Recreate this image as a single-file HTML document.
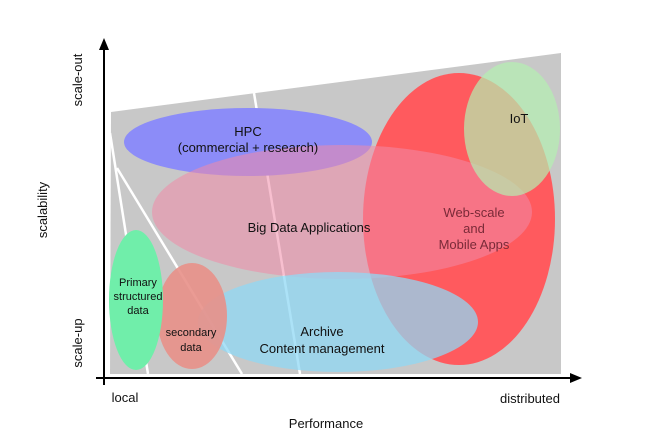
<!DOCTYPE html>
<html><head><style>body{margin:0;background:#fff}svg{display:block}</style></head><body>
<svg width="648" height="442" viewBox="0 0 648 442" font-family="Liberation Sans, sans-serif">
<polygon points="111,112 561,53 561,374 110,374" fill="#c8c8c8"/>
<g stroke="#fff" stroke-width="2.5" fill="none">
<line x1="110" y1="133" x2="148" y2="374"/>
<line x1="117" y1="168" x2="242" y2="374"/>
<line x1="254" y1="93" x2="300" y2="374"/>
</g>
<ellipse cx="248" cy="142" rx="124" ry="34" fill="#8c8cf8"/>
<ellipse cx="459" cy="219" rx="96" ry="146" fill="#ff5a5e"/>
<ellipse cx="342" cy="212" rx="190" ry="67" fill="#f08aa8" fill-opacity="0.55"/>
<ellipse cx="512" cy="129" rx="48" ry="67" fill="#b4f0b0" fill-opacity="0.7"/>
<ellipse cx="338" cy="322" rx="140" ry="50" fill="#90d8f4" fill-opacity="0.75"/>
<ellipse cx="192" cy="316" rx="35" ry="53" fill="#e89088" fill-opacity="0.9"/>
<ellipse cx="136" cy="300" rx="27" ry="70" fill="#70eeaa"/>
<g stroke="#000" stroke-width="2">
<line x1="104" y1="385" x2="104" y2="48"/>
<line x1="96" y1="378" x2="572" y2="378"/>
</g>
<polygon points="104,38 99,50 109,50" fill="#000"/>
<polygon points="582,378 570,373 570,383" fill="#000"/>
<g font-size="13" fill="#111" text-anchor="middle">
<text x="248" y="136">HPC</text>
<text x="248" y="152">(commercial + research)</text>
<text x="309" y="232">Big Data Applications</text>
<text x="474" y="217" fill="#7a2a38">Web-scale</text>
<text x="474" y="233" fill="#7a2a38">and</text>
<text x="474" y="249" fill="#7a2a38">Mobile Apps</text>
<text x="519" y="123">IoT</text>
<text x="322" y="336">Archive</text>
<text x="322" y="353">Content management</text>
<text x="326" y="428">Performance</text>
<text x="125" y="402">local</text>
<text x="530" y="403">distributed</text>
</g>
<g font-size="11" fill="#111" text-anchor="middle">
<text x="138" y="286">Primary</text>
<text x="138" y="300">structured</text>
<text x="138" y="314">data</text>
<text x="191" y="336">secondary</text>
<text x="191" y="351">data</text>
</g>
<g font-size="13" fill="#111" text-anchor="middle">
<text transform="translate(82,80) rotate(-90)">scale-out</text>
<text transform="translate(47,210) rotate(-90)">scalability</text>
<text transform="translate(82,343) rotate(-90)">scale-up</text>
</g>
</svg>
</body></html>
